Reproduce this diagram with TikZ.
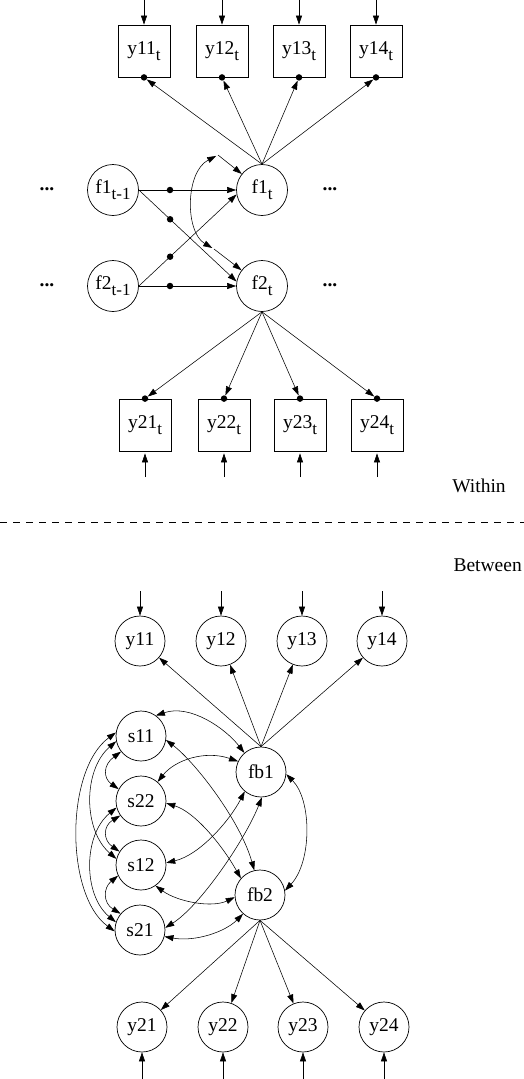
\documentclass[tikz,border=0pt]{standalone}
\usepackage{fontspec}
\setmainfont{Liberation Serif}
\usetikzlibrary{arrows.meta}
\newcommand{\mysub}[1]{\raisebox{-0.32em}{\fontsize{17}{17}\selectfont #1}}
\begin{document}
\begin{tikzpicture}[x=1pt,y=-1pt,
  txt/.style={font=\fontsize{19.5}{22}\selectfont},
  obs/.style={draw,line width=0.8pt,minimum size=52pt,inner sep=0pt,txt},
  lat/.style={draw,circle,line width=0.7pt,minimum size=50pt,inner sep=0pt,txt},
  arr/.style={line width=0.55pt,-{Triangle[length=9pt,width=6pt]}},
  dbl/.style={line width=0.55pt,{Triangle[length=9pt,width=6pt]}-{Triangle[length=9pt,width=6pt]}},
  pdot/.style={circle,fill,inner sep=0pt,minimum size=6.5pt}]
\useasboundingbox (0,0) rectangle (524,1079);

% ---------------- Within ----------------
\node[obs] (y11t) at (144,51) {y11\mysub{t}};
\node[obs] (y12t) at (222,51) {y12\mysub{t}};
\node[obs] (y13t) at (299,51) {y13\mysub{t}};
\node[obs] (y14t) at (376,51) {y14\mysub{t}};
\foreach \n/\x in {11/144,12/222,13/299,14/376}{
  \coordinate (e\n) at (\x,0);
  \draw[arr] (e\n) -- (y\n t);
  \node[pdot] (d\n) at (y\n t.south) {};
}

\node[lat,minimum size=51pt] (f1tm) at (113,190) {f1\mysub{t-1}};
\node[lat,minimum size=51pt] (f2tm) at (113,286) {f2\mysub{t-1}};
\node[lat,minimum size=51pt] (f1t) at (262,190) {f1\mysub{t}};
\node[lat,minimum size=51pt] (f2t) at (262,286) {f2\mysub{t}};

\node[txt,font=\fontsize{19.5}{22}\selectfont\bfseries] (el1) at (47,189) {...};
\node[txt,font=\fontsize{19.5}{22}\selectfont\bfseries] (el2) at (47,285) {...};
\node[txt,font=\fontsize{19.5}{22}\selectfont\bfseries] (el3) at (330,189) {...};
\node[txt,font=\fontsize{19.5}{22}\selectfont\bfseries] (el4) at (330,285) {...};

\foreach \n in {11,12,13,14}{ \draw[arr] (f1t.north) -- (d\n); }

\draw[arr] (f1tm.east) -- node[pdot,pos=0.32] (m1) {} (f1t.west);
\draw[arr] (f1tm.east) -- node[pdot,pos=0.32] (m2) {} (f2t.170);
\draw[arr] (f2tm.east) -- node[pdot,pos=0.32] (m3) {} (f1t.190);
\draw[arr] (f2tm.east) -- node[pdot,pos=0.32] (m4) {} (f2t.west);

\coordinate (r1) at (218,155);
\coordinate (r2) at (214,249);
\draw[arr] (r1) -- (f1t);
\draw[arr] (r2) -- (f2t);
\draw[dbl,shorten <=2pt,shorten >=2pt] (r1) .. controls (185,172) and (185,232) .. (r2);

\node[obs] (y21t) at (145,425) {y21\mysub{t}};
\node[obs] (y22t) at (224,425) {y22\mysub{t}};
\node[obs] (y23t) at (300,425) {y23\mysub{t}};
\node[obs] (y24t) at (377,425) {y24\mysub{t}};
\foreach \n/\x in {21/145,22/224,23/300,24/377}{
  \node[pdot] (d\n) at (y\n t.north) {};
  \draw[arr] (f2t.south) -- (d\n);
  \coordinate (e\n) at (\x,477);
  \draw[arr,shorten >=2pt] (e\n) -- (y\n t);
}

\node[txt] (within) at (479,486) {Within};
\coordinate (dl) at (0,522);
\coordinate (dr) at (524,522);
\draw[line width=0.6pt,dash pattern=on 7pt off 6pt] (dl) -- (dr);
\node[txt,anchor=east,inner xsep=0pt] (between) at (522,565) {Between};

% ---------------- Between ----------------
\node[lat] (by11) at (140,641) {y11};
\node[lat] (by12) at (221,641) {y12};
\node[lat] (by13) at (302,641) {y13};
\node[lat] (by14) at (382,641) {y14};
\node[lat] (by21) at (142,1027) {y21};
\node[lat] (by22) at (223,1027) {y22};
\node[lat] (by23) at (303,1027) {y23};
\node[lat] (by24) at (384,1027) {y24};

\node[lat] (fb1) at (261,772) {fb1};
\node[lat] (fb2) at (260,895) {fb2};
\node[lat] (s11) at (141,736) {s11};
\node[lat] (s22) at (141,801) {s22};
\node[lat] (s12) at (141,865) {s12};
\node[lat] (s21) at (140,930) {s21};

\foreach \n/\x in {11/140,12/221,13/302,14/382}{
  \coordinate (eb\n) at (\x,591);
  \draw[arr] (eb\n) -- (by\n);
  \draw[arr] (fb1.north) -- (by\n);
}
\foreach \n/\x in {21/142,22/223,23/303,24/384}{
  \coordinate (eb\n) at (\x,1079);
  \draw[arr] (eb\n) -- (by\n);
  \draw[arr] (fb2.south) -- (by\n);
}

% covariances s - fb
\draw[dbl] (s11.54) .. controls (190,704) and (225,728) .. (fb1.131);
\draw[dbl] (s22.49) .. controls (175,760) and (205,750) .. (fb1.155);
\draw[dbl] (s11.-9) .. controls (195,762) and (240,820) .. (fb2.103);
\draw[dbl] (s22.-5) .. controls (195,812) and (222,845) .. (fb2.139);
\draw[dbl] (s12.5) .. controls (200,855) and (230,820) .. (fb1.230);
\draw[dbl] (s21.5) .. controls (200,906) and (245,840) .. (fb1.272);
\draw[dbl] (s12.-55) .. controls (178,902) and (212,908) .. (fb2.185);
\draw[dbl] (s21.-15) .. controls (195,942) and (225,932) .. (fb2.228);
\draw[dbl] (fb1.-5) .. controls (312,800) and (312,862) .. (fb2.10);

% covariances among s
\draw[dbl] (s11.218) .. controls (103,765) and (103,778) .. (s22.152);
\draw[dbl] (s22.215) .. controls (103,826) and (103,840) .. (s12.148);
\draw[dbl] (s12.205) .. controls (103,888) and (103,903) .. (s21.140);
\draw[dbl] (s11.192) .. controls (83,770) and (83,830) .. (s12.166);
\draw[dbl] (s22.195) .. controls (83,835) and (83,895) .. (s21.162);
\draw[dbl] (s11.172) .. controls (65,770) and (65,895) .. (s21.183);
\end{tikzpicture}
\end{document}
